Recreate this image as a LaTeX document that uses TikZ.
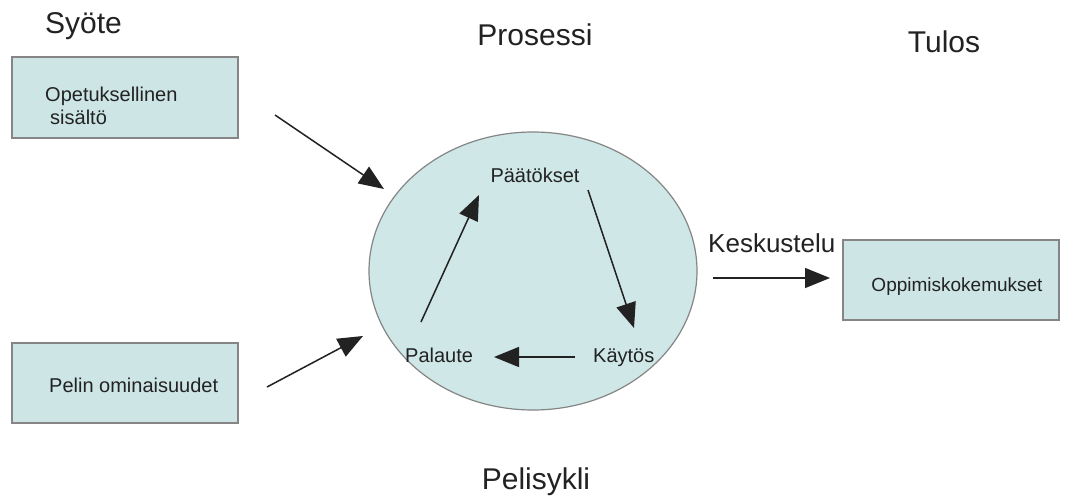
\documentclass[tikz,border=0pt]{standalone}
\usepackage{fontspec}
\setmainfont{Liberation Sans}
\usetikzlibrary{arrows.meta,shapes.geometric}
\definecolor{boxfill}{HTML}{CDE5E5}
\definecolor{ringfill}{HTML}{CFE7E7}
\definecolor{edge}{HTML}{858585}
\definecolor{ink}{HTML}{222222}
\begin{document}
\begin{tikzpicture}[x=1pt,y=-1pt,
  inbox/.style={draw=edge,fill=boxfill,line width=1.2pt},
  heading/.style={font=\fontsize{30}{32}\selectfont,text=ink,inner sep=0pt},
  label/.style={font=\fontsize{20}{22}\selectfont,text=ink,inner sep=0pt},
  flow/.style={draw=ink,line width=1.5pt,-{Triangle[length=25pt,width=20pt]}}]
  \useasboundingbox (0,0) rectangle (1072,498);
  \fill[white] (0,0) rectangle (1072,498);

  % column headings
  \node[heading,anchor=base west] (syote) at (45,33) {Syöte};
  \node[heading,anchor=base] (prosessi) at (535,45) {Prosessi};
  \node[heading,anchor=base] (tulos) at (944,52) {Tulos};
  \node[heading,anchor=base] (pelisykli) at (536,489) {Pelisykli};

  % input boxes
  \draw[inbox] (12,57) rectangle (238,138);
  \node[label,anchor=base west] (opetus) at (45,101) {Opetuksellinen};
  \node[label,anchor=base west] (sisalto) at (50,124) {sisältö};
  \draw[inbox] (12,343) rectangle (238,423);
  \node[label,anchor=base west] (pelin) at (49,392) {Pelin ominaisuudet};

  % output box
  \draw[inbox] (843,240) rectangle (1059,320);
  \node[label,font=\fontsize{19}{21}\selectfont,anchor=base] (oppi) at (957,291) {Oppimiskokemukset};

  % game cycle
  \node[draw=edge,fill=ringfill,line width=1.2pt,ellipse,
        minimum width=328pt,minimum height=278pt,inner sep=0pt] (cycle) at (533,271) {};
  \node[label,anchor=base] (paatokset) at (535,182) {Päätökset};
  \node[label,anchor=base west] (kaytos) at (593,362) {Käytös};
  \node[label,anchor=base west] (palaute) at (405,362) {Palaute};

  % discussion label
  \node[label,font=\fontsize{26}{28}\selectfont,anchor=base west] (kesk) at (708,252) {Keskustelu};

  % arrow end points
  \coordinate (a1s) at (275,115);  \coordinate (a1e) at (384,189);
  \coordinate (a2s) at (267,387);  \coordinate (a2e) at (363,336);
  \coordinate (k1) at (713,278);   \coordinate (k2) at (830,278);
  \coordinate (pk1) at (588,190);  \coordinate (pk2) at (634,328);
  \coordinate (kp1) at (575,357);  \coordinate (kp2) at (494,357);
  \coordinate (pp1) at (421,322);  \coordinate (pp2) at (479,195);

  \draw[flow] (a1s) -- (a1e);
  \draw[flow] (a2s) -- (a2e);
  \draw[flow] (k1) -- (k2);
  \draw[flow] (pk1) -- (pk2);
  \draw[flow] (kp1) -- (kp2);
  \draw[flow] (pp1) -- (pp2);
\end{tikzpicture}
\end{document}
